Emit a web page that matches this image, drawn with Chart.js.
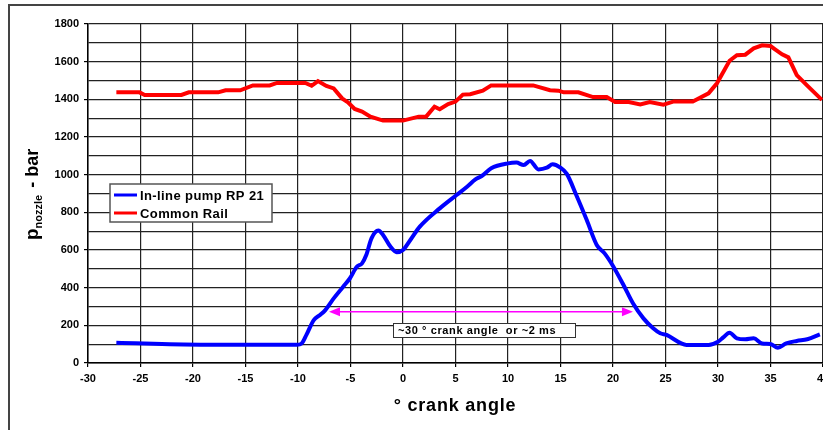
<!DOCTYPE html>
<html>
<head>
<meta charset="utf-8">
<script src="https://cdn.jsdelivr.net/npm/chart.js@4.4.1/dist/chart.umd.min.js"></script>
<style>
  html, body { margin: 0; padding: 0; background: #fff; }
  #wrap { width: 823px; height: 430px; }
</style>
</head>
<body>
<div id="wrap"><canvas id="c" width="823" height="430"></canvas></div>
<script>
// Nozzle pressure vs crank angle, in-line pump vs common rail
const xTicks = [-30, -25, -20, -15, -10, -5, 0, 5, 10, 15, 20, 25, 30, 35, 40];
const yTicks = [0, 200, 400, 600, 800, 1000, 1200, 1400, 1600, 1800];

const pumpAngle = [-27.3, -19.3, -10.1, -9.65, -9.2, -8.5, -7.9, -7.4, -6.6, -5.7, -5.05, -4.4, -3.9, -3.5, -3.0,
  -2.35, -1.9, -1.2, -0.6, 0.0, 0.7, 1.6, 3.5, 5.1, 6.1, 6.9, 7.5, 8.4, 10.0, 10.8, 11.5, 12.1, 12.9, 13.7,
  14.25, 14.95, 15.6, 16.5, 17.5, 18.45, 19.2, 20.0, 21.0, 21.9, 22.9, 23.8, 24.5, 25.1, 26.5, 27.0, 29.1,
  30.0, 30.5, 31.1, 31.8, 32.6, 33.4, 34.2, 35.0, 35.7, 36.5, 37.5, 38.5, 39.7];
const pumpPressure = [107, 97, 97, 104, 149, 228, 255, 281, 343, 405, 450, 511, 529, 573, 662,
  703, 680, 618, 588, 600, 653, 724, 821, 892, 936, 975, 993, 1034, 1060, 1064, 1051, 1073, 1028, 1037,
  1055, 1039, 1004, 892, 759, 627, 582, 515, 414, 317, 237, 186, 158, 149, 104, 96, 96,
  113, 136, 161, 131, 126, 131, 104, 101, 81, 104, 117, 126, 152];

const railAngle = [-27.3, -25.1, -24.6, -21.1, -20.4, -17.6, -16.9, -15.5, -14.3, -12.7, -12.0, -9.3, -8.7, -8.1,
  -7.3, -6.6, -5.8, -5.2, -4.6, -3.9, -3.1, -1.9, 0.0, 1.5, 2.2, 3.0, 3.5, 4.3, 5.0, 5.7, 6.4, 7.6, 8.4,
  12.4, 14.0, 14.8, 15.3, 16.7, 18.1, 19.4, 20.2, 21.5, 22.6, 23.5, 24.8, 25.8, 27.6, 29.1, 29.9, 31.1,
  31.8, 32.6, 33.4, 34.2, 35.0, 35.4, 36.1, 36.7, 37.5, 38.5, 39.9];
const railPressure = [1437, 1437, 1423, 1423, 1437, 1437, 1448, 1448, 1474, 1474, 1487, 1487, 1472, 1497,
  1471, 1458, 1405, 1382, 1349, 1335, 1308, 1287, 1287, 1308, 1308, 1361, 1347, 1375, 1388, 1425, 1427, 1446, 1474,
  1474, 1448, 1446, 1437, 1437, 1412, 1412, 1386, 1386, 1373, 1386, 1372, 1389, 1389, 1432, 1485, 1605,
  1634, 1637, 1671, 1687, 1683, 1667, 1639, 1623, 1529, 1473, 1397];

const seriesNames = ['In-line pump RP 21', 'Common Rail'];
const seriesColors = ['#0000ff', '#ff0000'];

// the ~30 deg span annotation
const spanFrom = -7.05, spanTo = 21.9, spanLevel = 272;
const spanText = '~30 ° crank angle  or ~2 ms';

const FONT = '"Liberation Sans", Arial, sans-serif';

function toPoints(xs, ys) {
  return xs.map((x, i) => ({ x: x, y: ys[i] }));
}

const decor = {
  id: 'decor',
  beforeDraw(chart) {
    const c = chart.ctx;
    c.save();
    c.fillStyle = '#fff';
    c.fillRect(0, 0, chart.width, chart.height);
    // outer frame
    c.strokeStyle = '#444';
    c.lineWidth = 2;
    c.beginPath();
    c.moveTo(9, 430);
    c.lineTo(9, 5);
    c.lineTo(823, 5);
    c.stroke();
    c.restore();
  },
  afterDatasetsDraw(chart) {
    const c = chart.ctx;
    const xs = chart.scales.x, ys = chart.scales.y;
    c.save();

    // magenta double arrow
    const ax1 = xs.getPixelForValue(spanFrom), ax2 = xs.getPixelForValue(spanTo);
    const ay = ys.getPixelForValue(spanLevel);
    c.strokeStyle = '#ff00ff';
    c.fillStyle = '#ff00ff';
    c.lineWidth = 1.5;
    c.beginPath();
    c.moveTo(ax1 + 8, ay);
    c.lineTo(ax2 - 8, ay);
    c.stroke();
    c.beginPath();
    c.moveTo(ax1, ay); c.lineTo(ax1 + 11, ay - 4.5); c.lineTo(ax1 + 11, ay + 4.5); c.closePath();
    c.fill();
    c.beginPath();
    c.moveTo(ax2, ay); c.lineTo(ax2 - 11, ay - 4.5); c.lineTo(ax2 - 11, ay + 4.5); c.closePath();
    c.fill();

    // text box
    const bx = 393, by = 323, bw = 182, bh = 14;
    c.fillStyle = '#fff';
    c.fillRect(bx, by, bw, bh);
    c.strokeStyle = '#333';
    c.lineWidth = 1;
    c.strokeRect(bx + 0.5, by + 0.5, bw, bh);
    c.fillStyle = '#000';
    c.font = 'bold 11px ' + FONT;
    c.letterSpacing = '0.6px';
    c.textBaseline = 'middle';
    c.textAlign = 'left';
    c.fillText(spanText, bx + 5, by + bh / 2 + 1);

    // legend
    const lx = 110, ly = 184, lw = 162, lh = 38;
    c.letterSpacing = '0px';
    c.fillStyle = '#fff';
    c.fillRect(lx, ly, lw, lh);
    c.strokeStyle = '#555';
    c.lineWidth = 1.5;
    c.strokeRect(lx, ly, lw, lh);
    c.font = 'bold 13px ' + FONT;
    c.letterSpacing = '0.4px';
    seriesNames.forEach((name, i) => {
      const yy = ly + 11 + i * 18;
      c.strokeStyle = seriesColors[i];
      c.lineWidth = 3;
      c.beginPath();
      c.moveTo(114, yy);
      c.lineTo(137, yy);
      c.stroke();
      c.fillStyle = '#000';
      c.fillText(name, 140, yy + 1);
    });

    // y axis title with subscript
    c.letterSpacing = '0px';
    c.translate(38, 240);
    c.rotate(-Math.PI / 2);
    c.textBaseline = 'alphabetic';
    c.fillStyle = '#000';
    c.font = 'bold 19px ' + FONT;
    c.fillText('p', 0, 0);
    let off = c.measureText('p').width;
    c.font = 'bold 11px ' + FONT;
    c.fillText('nozzle', off, 4);
    off += c.measureText('nozzle').width;
    c.font = 'bold 18px ' + FONT;
    c.fillText(' - bar', off + 2, 0);
    c.restore();

    // x axis title
    c.save();
    c.fillStyle = '#000';
    c.font = 'bold 18px ' + FONT;
    c.letterSpacing = '0.8px';
    c.textAlign = 'center';
    c.textBaseline = 'alphabetic';
    c.fillText('° crank angle', 455, 411);
    c.restore();
  }
};

const chart = new Chart(document.getElementById('c'), {
  type: 'line',
  data: {
    datasets: [
      {
        label: seriesNames[0],
        data: toPoints(pumpAngle, pumpPressure),
        borderColor: seriesColors[0],
        borderWidth: 4,
        pointRadius: 0,
        cubicInterpolationMode: 'monotone'
      },
      {
        label: seriesNames[1],
        data: toPoints(railAngle, railPressure),
        borderColor: seriesColors[1],
        borderWidth: 4,
        pointRadius: 0,
        tension: 0
      }
    ]
  },
  options: {
    responsive: false,
    animation: false,
    layout: { padding: { left: 0, top: 24, right: 0, bottom: 0 } },
    plugins: {
      legend: { display: false },
      tooltip: { enabled: false }
    },
    scales: {
      x: {
        type: 'linear',
        min: xTicks[0],
        max: xTicks[xTicks.length - 1],
        afterBuildTicks: (s) => { s.ticks = xTicks.map(v => ({ value: v })); },
        afterFit: (s) => { s.height = 67; s.paddingLeft = 0; s.paddingRight = 0; },
        grid: { color: '#222', lineWidth: 1.2, tickLength: 4, tickColor: '#000' },
        border: { color: '#000', width: 1.5 },
        ticks: {
          color: '#000',
          padding: 5,
          maxRotation: 0,
          autoSkip: false,
          font: { family: FONT, size: 11, weight: 'bold' }
        }
      },
      y: {
        min: 0,
        max: 1800,
        ticks: {
          stepSize: 100,
          color: '#000',
          padding: 5,
          autoSkip: false,
          callback: (v) => (yTicks.includes(v) ? v : ''),
          font: { family: FONT, size: 11, weight: 'bold' }
        },
        afterFit: (s) => { s.width = 88; s.paddingTop = 0; s.paddingBottom = 0; },
        grid: {
          color: '#222',
          lineWidth: 1.2,
          tickLength: 4,
          tickColor: (ctx) => (ctx.tick && yTicks.includes(ctx.tick.value) ? '#000' : 'rgba(0,0,0,0)')
        },
        border: { color: '#000', width: 1.5 }
      }
    }
  },
  plugins: [decor]
});
</script>
</body>
</html>
